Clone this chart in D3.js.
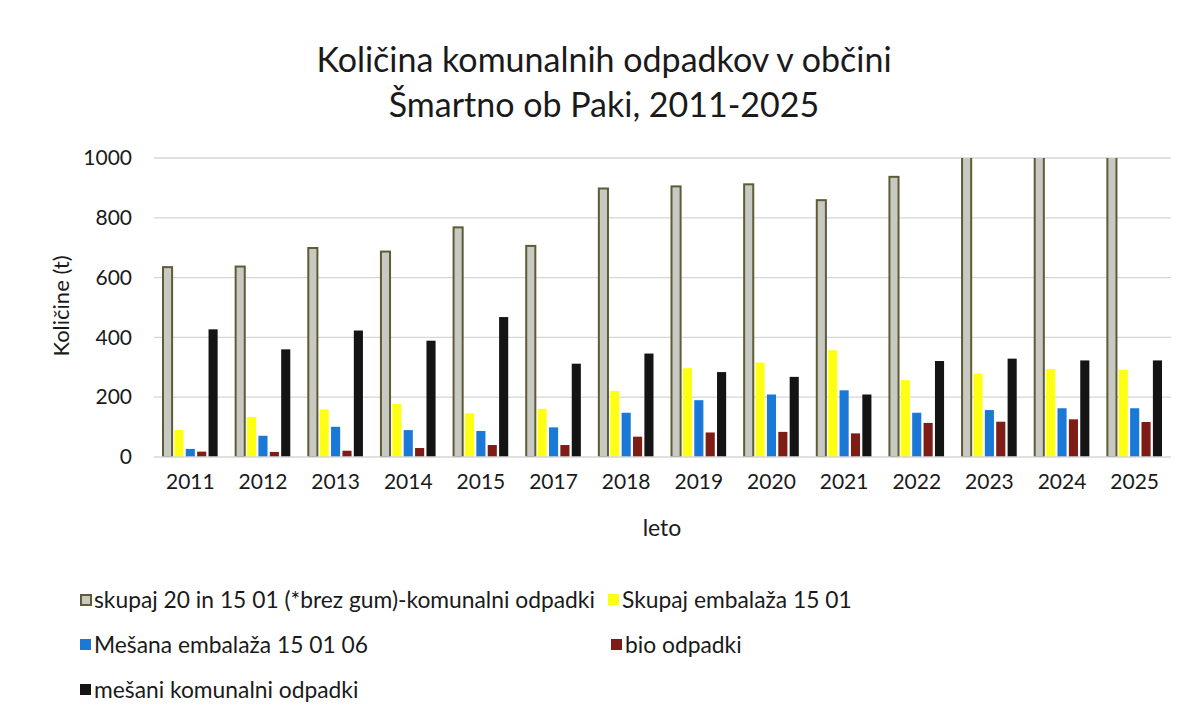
<!DOCTYPE html>
<html>
<head>
<meta charset="utf-8">
<script src="https://cdnjs.cloudflare.com/ajax/libs/d3/7.8.5/d3.min.js"></script>
<style>
  body { margin: 0; background: #fff; }
  svg { font-family: Lato, "Open Sans", sans-serif; }
</style>
</head>
<body>
<script>
// leta (kategorije)
var years = ["2011","2012","2013","2014","2015","2017","2018","2019","2020","2021","2022","2023","2024","2025"];

// serije (t) - odčitano s slike
var skupaj = [635, 637, 699, 687, 768, 706, 898, 905, 912, 859, 937, 1050, 1050, 1050];
var embalaza = [90, 134, 159, 177, 146, 161, 221, 297, 316, 357, 257, 279, 294, 292];
var mesanaEmb = [27, 71, 101, 90, 87, 99, 148, 190, 209, 223, 148, 157, 163, 163];
var bio = [18, 17, 21, 30, 40, 40, 68, 82, 84, 79, 114, 118, 126, 117];
var mesani = [427, 360, 423, 389, 468, 312, 346, 284, 268, 209, 321, 329, 323, 323];

var seriesNames = [
  "skupaj 20 in 15 01 (*brez gum)-komunalni odpadki",
  "Skupaj embalaža 15 01",
  "Mešana embalaža 15 01 06",
  "bio odpadki",
  "mešani komunalni odpadki"
];
var yTicks = [0, 200, 400, 600, 800, 1000];

var seriesData = [skupaj, embalaza, mesanaEmb, bio, mesani];
var fills = ["#c9c9c3", "#ffff14", "#1a78d6", "#7e1c16", "#141414"];
var strokes = ["#5e5c35", "none", "none", "none", "none"];

var W = 1189, H = 716;
var margin = {top: 158, right: 18, bottom: 259, left: 154},
    width = W - margin.left - margin.right,
    height = H - margin.top - margin.bottom;

var svg = d3.select("body").append("svg")
    .attr("width", W)
    .attr("height", H);

// title
svg.append("text").attr("x", 604).attr("y", 72).attr("text-anchor", "middle")
    .style("font-size", "34px").attr("fill", "#1a1a1a")
    .text("Količina komunalnih odpadkov v občini");
svg.append("text").attr("x", 604).attr("y", 117).attr("text-anchor", "middle")
    .style("font-size", "34px").attr("fill", "#1a1a1a")
    .text("Šmartno ob Paki, 2011-2025");

var g = svg.append("g")
    .attr("transform", "translate(" + margin.left + "," + margin.top + ")");

var x0 = d3.scaleBand().domain(years).range([0, width]);
var x1 = d3.scaleBand().domain(d3.range(5)).range([9, x0.bandwidth() - 9]).paddingInner(0.2);
var y = d3.scaleLinear().domain([0, 1000]).range([height, 0]);

// gridlines
g.append("g").selectAll("line").data(yTicks.filter(function(d) { return d > 0; })).enter()
  .append("line")
    .attr("x1", 0).attr("x2", width)
    .attr("y1", function(d) { return y(d); }).attr("y2", function(d) { return y(d); })
    .attr("stroke", "#d6d6d6").attr("stroke-width", 1.3);

g.append("clipPath").attr("id", "clip")
  .append("rect").attr("x", -5).attr("y", 0).attr("width", width + 10).attr("height", height);

var bars = g.append("g").attr("clip-path", "url(#clip)");
seriesData.forEach(function(vals, s) {
  bars.selectAll(".s" + s).data(vals).enter()
    .append("rect")
      .attr("class", "s" + s)
      .attr("x", function(d, i) { return x0(years[i]) + x1(s); })
      .attr("y", function(d) { return y(d); })
      .attr("width", x1.bandwidth())
      .attr("height", function(d) { return height - y(d); })
      .attr("fill", fills[s])
      .attr("stroke", strokes[s])
      .attr("stroke-width", s == 0 ? 2 : 0);
});

// baseline
g.append("line").attr("x1", 0).attr("x2", width).attr("y1", height).attr("y2", height)
    .attr("stroke", "#d6d6d6").attr("stroke-width", 1.3);

// Y axis
var yAxis = g.append("g")
    .call(d3.axisLeft(y).tickValues(yTicks).tickFormat(d3.format("d")).tickSize(0).tickPadding(22));
yAxis.select(".domain").remove();
yAxis.selectAll("text").style("font-size", "21px").attr("fill", "#1a1a1a")
    .style("font-family", "Lato, sans-serif");

// X axis
var xAxis = g.append("g")
    .attr("transform", "translate(0," + height + ")")
    .call(d3.axisBottom(x0).tickSize(0).tickPadding(17));
xAxis.select(".domain").remove();
xAxis.selectAll("text").style("font-size", "21px").attr("fill", "#1a1a1a")
    .style("font-family", "Lato, sans-serif");

// axis titles
svg.append("text")
    .attr("transform", "translate(69,306) rotate(-90)")
    .attr("text-anchor", "middle")
    .style("font-size", "22px").attr("fill", "#1a1a1a")
    .text("Količine (t)");
svg.append("text").attr("x", 662).attr("y", 536).attr("text-anchor", "middle")
    .style("font-size", "23px").attr("fill", "#1a1a1a")
    .text("leto");

// legend
var legPos = [[80, 600], [608, 600], [80, 645], [611, 645], [80, 690]];
var leg = svg.append("g");
seriesNames.forEach(function(name, s) {
  var p = legPos[s];
  leg.append("rect")
      .attr("x", p[0] + (s == 0 ? 1 : 0)).attr("y", p[1] - 6 + (s == 0 ? 1 : 0))
      .attr("width", s == 0 ? 10 : 11).attr("height", s == 0 ? 10 : 11)
      .attr("fill", fills[s])
      .attr("stroke", strokes[s]).attr("stroke-width", s == 0 ? 2 : 0);
  leg.append("text")
      .attr("x", p[0] + 14).attr("y", p[1] + 8)
      .style("font-size", "22.8px").attr("fill", "#1a1a1a")
      .text(name);
});
</script>
</body>
</html>
